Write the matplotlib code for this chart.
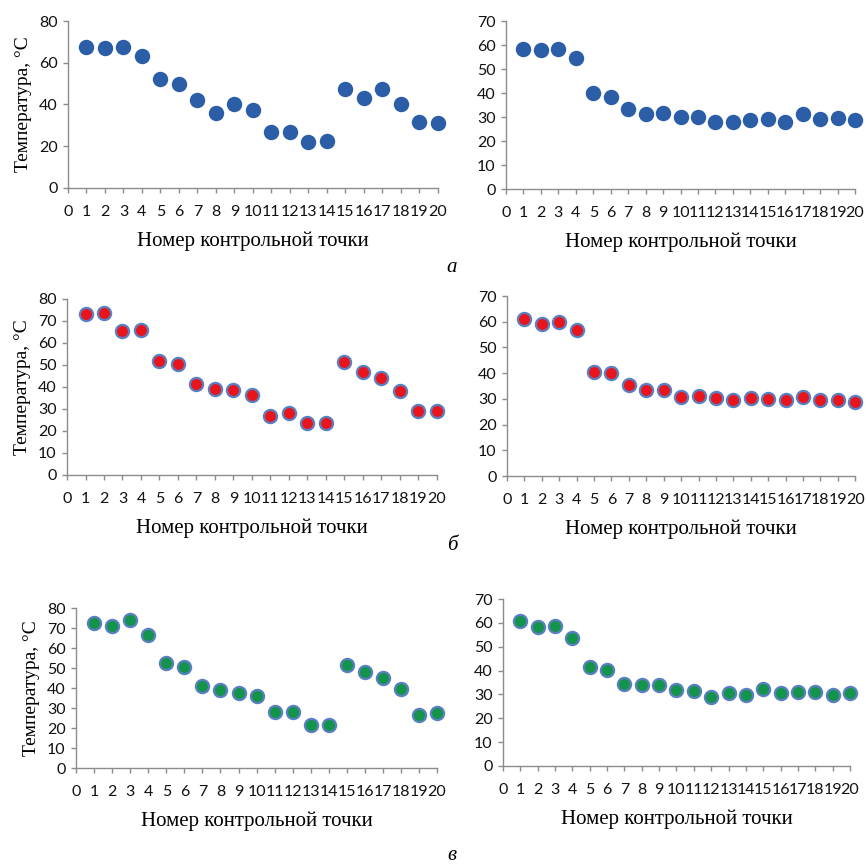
import matplotlib
matplotlib.use("Agg")
import matplotlib.pyplot as plt
import numpy as np

# control point numbers
points = np.arange(1, 21)

# (а) left / right
temp_a_left = [67.6, 67.3, 67.7, 63.3, 52.1, 49.9, 42.0, 35.9, 40.1, 37.5,
               26.7, 26.7, 21.8, 22.4, 47.2, 43.2, 47.2, 40.4, 31.5, 31.3]
temp_a_right = [58.5, 57.8, 58.2, 54.6, 40.1, 38.2, 33.3, 31.4, 31.7, 29.9,
                30.2, 27.9, 28.1, 28.8, 29.3, 27.8, 31.3, 29.3, 29.7, 28.6]
# (б)
temp_b_left = [73.2, 73.5, 65.6, 65.8, 52.0, 50.3, 41.4, 39.1, 38.8, 36.2,
               26.7, 28.0, 23.8, 23.5, 51.2, 46.7, 44.2, 38.2, 28.9, 28.9]
temp_b_right = [60.9, 59.2, 60.0, 56.8, 40.6, 39.9, 35.6, 33.4, 33.4, 30.9,
                31.3, 30.3, 29.7, 30.3, 30.0, 29.4, 30.8, 29.4, 29.6, 28.6]
# (в)
temp_c_left = [72.7, 71.0, 74.2, 66.6, 52.4, 50.6, 41.2, 38.8, 37.5, 36.0,
               27.9, 27.9, 21.6, 21.4, 51.6, 48.0, 45.1, 39.3, 26.6, 27.5]
temp_c_right = [60.9, 58.1, 58.7, 53.8, 41.4, 40.2, 34.4, 33.8, 34.0, 31.9,
                31.3, 29.1, 30.6, 29.6, 32.3, 30.6, 31.2, 31.0, 29.9, 30.6]

panel_letters = ["а", "б", "в"]
xlabel = "Номер контрольной точки"
ylabel = "Температура, °C"

SERIF = "Liberation Serif"
SANS = "Lato"
SPINE = "#8c8c8c"

fig = plt.figure(figsize=(8.66, 8.65), dpi=100)


def scatter_panel(rect, values, ymax, ystep, face, edge, show_ylabel):
    ax = fig.add_axes(rect)
    ax.plot(points, values, linestyle="none", marker="o", markersize=9.5,
            markerfacecolor=face, markeredgecolor=edge, markeredgewidth=1.6,
            clip_on=False, zorder=3)
    ax.set_xlim(0, 20)
    ax.set_ylim(0, ymax)
    ax.set_xticks(np.arange(0, 21))
    ax.set_yticks(np.arange(0, ymax + 1, ystep))
    for s in ["top", "right"]:
        ax.spines[s].set_visible(False)
    for s in ["left", "bottom"]:
        ax.spines[s].set_color(SPINE)
        ax.spines[s].set_linewidth(1.0)
    ax.tick_params(axis="both", direction="out", color=SPINE, length=3.5,
                   width=1.0, labelsize=11.5, labelcolor="#111111", pad=4)
    ax.tick_params(axis="x", pad=9)
    for lab in ax.get_xticklabels() + ax.get_yticklabels():
        lab.set_family(SANS)
    ax.set_xlabel(xlabel, family=SERIF, fontsize=15, labelpad=9)
    if show_ylabel:
        ax.set_ylabel(ylabel, family=SERIF, fontsize=14, labelpad=5)
    return ax


BLUE = ("#2c5ea8", "#2c5ea8")
RED = ("#e8151d", "#5b80c2")
GREEN = ("#13944a", "#5b80c2")

scatter_panel([0.0785, 0.7827, 0.427, 0.193], temp_a_left, 80, 20, *BLUE, True)
scatter_panel([0.5843, 0.7815, 0.403, 0.194], temp_a_right, 70, 10, *BLUE, False)
scatter_panel([0.0774, 0.4509, 0.427, 0.2035], temp_b_left, 80, 10, *RED, True)
scatter_panel([0.5855, 0.4497, 0.402, 0.208], temp_b_right, 70, 10, *RED, False)
scatter_panel([0.0878, 0.1121, 0.4169, 0.185], temp_c_left, 80, 10, *GREEN, True)
scatter_panel([0.5808, 0.1145, 0.4007, 0.193], temp_c_right, 70, 10, *GREEN, False)

for letter, ypix in zip(panel_letters, [267, 546, 855]):
    fig.text(452 / 866, 1 - ypix / 865, letter, family=SERIF, style="italic",
             fontsize=15, ha="center", va="center")

fig.savefig("out.png", dpi=100)
